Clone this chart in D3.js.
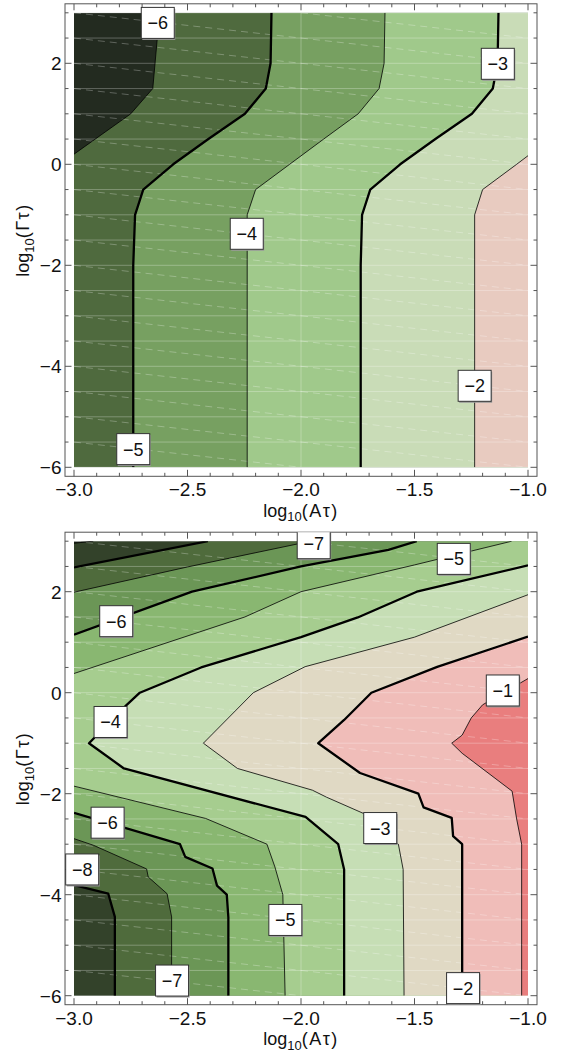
<!DOCTYPE html>
<html>
<head>
<meta charset="utf-8">
<script src="https://cdn.jsdelivr.net/npm/d3@7"></script>
<style>
  body { margin: 0; background: #fff; }
  svg { display: block; font-family: "Liberation Sans", Arial, sans-serif; }
</style>
</head>
<body>
<div id="chart"></div>
<script>
// Axis ranges and tick labels (shared by both panels)
const xDomain = [-3, -1];
const yDomain = [-6, 3];
const xMajorTicks = [-3.0, -2.5, -2.0, -1.5, -1.0];
const yMajorTicks = [-6, -4, -2, 0, 2];

// Upper panel: contour levels and traced contour lines [log10(Aτ), log10(Γτ)]
const upperLevels = [-6, -5, -4, -3, -2];
const upperM6 = [[[-2.633, 3], [-2.633, 2.5], [-2.643, 2], [-2.653, 1.5], [-2.75, 1], [-3, 0.2]]];
const upperM5 = [[[-2.13, 3], [-2.134, 2], [-2.155, 1.5], [-2.247, 1], [-2.408, 0.5], [-2.563, 0], [-2.695, -0.5], [-2.731, -1], [-2.739, -2], [-2.739, -6]]];
const upperM4 = [[[-1.63, 3], [-1.634, 2], [-1.656, 1.5], [-1.748, 1], [-1.9, 0.5], [-2.05, 0], [-2.2, -0.5], [-2.237, -1], [-2.237, -6]]];
const upperM3 = [[[-1.13, 3], [-1.134, 2], [-1.155, 1.5], [-1.247, 1], [-1.408, 0.5], [-1.563, 0], [-1.695, -0.5], [-1.731, -1], [-1.737, -2], [-1.737, -6]]];
const upperM2 = [[[-1, 0.17], [-1.05, 0], [-1.2, -0.5], [-1.235, -1], [-1.235, -6]]];
// contour label positions: [level, x, y]
const upperLabels = [[-6, -2.631, 2.8], [-5, -2.739, -5.64], [-4, -2.239, -1.376], [-3, -1.133, 1.99], [-2, -1.235, -4.386]];

// Lower panel
const lowerLevels = [-9, -8, -7, -6, -5, -4, -3, -2, -1];
const lowerM9 = [[[-2.915, 3], [-3, 2.96]]];
const lowerM8 = [
  [[-2.41, 3], [-3, 2.48]],
  [[-3, -3.81], [-2.849, -3.98], [-2.82, -4.44], [-2.82, -6]]
];
const lowerM7 = [
  [[-1.96, 3], [-2.0, 2.96], [-2.5, 2.49], [-3, 1.99]],
  [[-3, -2.89], [-2.915, -3.02], [-2.68, -3.49], [-2.673, -3.65], [-2.59, -3.98], [-2.57, -4.44], [-2.57, -6]]
];
const lowerM6 = [
  [[-1.49, 3], [-1.615, 2.83], [-2.0, 2.5], [-2.48, 2.0], [-3, 1.15]],
  [[-3, -2.38], [-2.533, -3.0], [-2.51, -3.25], [-2.39, -3.48], [-2.37, -3.82], [-2.327, -4.0], [-2.32, -4.45], [-2.32, -6]]
];
const lowerM5 = [
  [[-1.072, 3], [-1.5, 2.53], [-2.0, 2.0], [-2.247, 1.5], [-3, 0.38]],
  [[-3, -1.85], [-2.42, -2.49], [-2.15, -3.0], [-2.115, -3.45], [-2.08, -4.0], [-2.07, -6]]
];
const lowerM4 = [[[-1, 2.52], [-1.49, 2.0], [-1.75, 1.49], [-2.0, 1.1], [-2.44, 0.5], [-2.71, 0.0], [-2.77, -0.25],
  [-2.934, -1.0], [-2.78, -1.5], [-1.98, -2.46], [-1.836, -3.0], [-1.81, -3.5], [-1.81, -6]]];
const lowerM3 = [[[-1, 1.94], [-1.5, 1.1], [-1.982, 0.515], [-2.21, 0.0], [-2.43, -1.0], [-2.28, -1.5], [-1.95, -1.93],
  [-1.887, -2.07], [-1.72, -2.4], [-1.571, -3.0], [-1.55, -3.5], [-1.546, -6]]];
const lowerM2 = [[[-1, 1.11], [-1.4, 0.51], [-1.69, 0.0], [-1.81, -0.54], [-1.924, -1.0], [-1.74, -1.59], [-1.483, -2.0],
  [-1.46, -2.27], [-1.336, -2.48], [-1.33, -2.84], [-1.29, -3.0], [-1.29, -6]]];
const lowerM1 = [[[-1, 0.28], [-1.2, -0.24], [-1.25, -0.5], [-1.29, -0.84], [-1.336, -1.0], [-1.29, -1.2], [-1.07, -1.95],
  [-1.05, -2.5], [-1.028, -3.0], [-1.028, -6]]];
const lowerLabels = [[-7, -1.944, 2.96], [-5, -1.327, 2.65], [-6, -2.814, 1.416], [-4, -2.839, -0.58], [-1, -1.111, 0.044],
  [-6, -2.852, -2.574], [-3, -1.651, -2.68], [-8, -2.964, -3.5], [-5, -2.069, -4.5], [-7, -2.568, -5.7], [-2, -1.286, -5.85]];

// Styles: band colours from lowest to highest, and which levels get a heavy line
const upperColors = ["#232b20", "#4f6a3e", "#77a061", "#a0c98b", "#c9dcb7", "#e8cbc0"];
const lowerColors = ["#222a1f", "#33422a", "#4f6b3c", "#6b9656", "#89b771", "#a6cd8f", "#c6deb5", "#e0d9c4", "#f0bdb9", "#e97e7e"];
const upperThick = [-5, -3];
const lowerThick = [-8, -6, -4, -2];

const svg = d3.select("#chart").append("svg")
  .attr("width", 569)
  .attr("height", 1057);

const innerLeft = 74, innerRight = 528, innerH = 454.5, pad = 9;
const fmtX = d3.format(".1f");
const fmtY = d3.format("d");

function drawPanel(id, top, levels, contours, colors, thick, labels) {
  const x = d3.scaleLinear().domain(xDomain).range([innerLeft, innerRight]);
  const y = d3.scaleLinear().domain(yDomain).range([top + innerH, top]);
  const g = svg.append("g");
  const [x0, x1] = xDomain, [y0, y1] = yDomain;
  const Wd = x1 - x0, Hd = y1 - y0, P = 2 * (Wd + Hd);
  const eps = 1e-6;

  // position along the domain boundary, counter-clockwise from bottom-left
  function perim([px, py]) {
    if (Math.abs(py - y0) < eps) return px - x0;
    if (Math.abs(px - x1) < eps) return Wd + (py - y0);
    if (Math.abs(py - y1) < eps) return Wd + Hd + (x1 - px);
    return 2 * Wd + Hd + (y1 - py);
  }
  const corners = [[0, [x0, y0]], [Wd, [x1, y0]], [Wd + Hd, [x1, y1]], [2 * Wd + Hd, [x0, y1]]];
  function walk(from, to) {
    const tf = perim(from);
    let tt = perim(to);
    if (tt <= tf) tt += P;
    const out = [];
    [...corners, ...corners.map(([t, p]) => [t + P, p])].forEach(([t, p]) => {
      if (t > tf && t < tt) out.push(p);
    });
    return out;
  }
  // region where value exceeds the level
  function superlevel(pieces) {
    const pts = [];
    pieces.forEach((piece, i) => {
      pts.push(...piece);
      const next = pieces[(i + 1) % pieces.length];
      pts.push(...walk(piece[piece.length - 1], next[0]));
    });
    return pts;
  }

  const defs = g.append("defs");
  defs.append("clipPath").attr("id", id + "-inner").append("rect")
    .attr("x", innerLeft).attr("y", top).attr("width", innerRight - innerLeft).attr("height", innerH);
  defs.append("clipPath").attr("id", id + "-frame").append("rect")
    .attr("x", innerLeft - pad).attr("y", top - pad)
    .attr("width", innerRight - innerLeft + 2 * pad).attr("height", innerH + 2 * pad);

  const line = d3.line().x(d => x(d[0])).y(d => y(d[1]));
  const plot = g.append("g").attr("clip-path", `url(#${id}-inner)`);

  // base band, then each superlevel set on top
  plot.append("rect")
    .attr("x", innerLeft).attr("y", top)
    .attr("width", innerRight - innerLeft).attr("height", innerH)
    .attr("fill", colors[0]);
  levels.forEach((lv, i) => {
    plot.append("path")
      .attr("d", line(superlevel(contours[i])) + "Z")
      .attr("fill", colors[i + 1]);
  });

  // faint mesh seams from the original rendering
  const seamY = d3.range(0, 19).map(i => y0 + i * 0.5);
  plot.selectAll(".hseam").data(seamY).join("line")
    .attr("x1", innerLeft).attr("x2", innerRight)
    .attr("y1", d => y(d)).attr("y2", d => y(d))
    .attr("stroke", "#fff").attr("stroke-opacity", 0.28).attr("stroke-width", 1);
  plot.append("line")
    .attr("x1", x(-2)).attr("x2", x(-2)).attr("y1", top).attr("y2", top + innerH)
    .attr("stroke", "#fff").attr("stroke-opacity", 0.28).attr("stroke-width", 1);
  const cells = [];
  [-3, -2].forEach(cx => seamY.slice(0, -1).forEach(cy => cells.push([cx, cy])));
  plot.selectAll(".dseam").data(cells).join("line")
    .attr("x1", d => x(d[0])).attr("y1", d => y(d[1] + 0.5))
    .attr("x2", d => x(d[0] + 1)).attr("y2", d => y(d[1]))
    .attr("stroke", "#fff").attr("stroke-opacity", 0.3).attr("stroke-width", 0.9)
    .attr("stroke-dasharray", "7,5");

  // contour lines
  levels.forEach((lv, i) => {
    contours[i].forEach(piece => {
      plot.append("path")
        .attr("d", line(piece))
        .attr("fill", "none")
        .attr("stroke", "#000")
        .attr("stroke-width", thick.includes(lv) ? 2.3 : 0.8)
        .attr("stroke-linejoin", "round");
    });
  });

  // frame
  const fl = innerLeft - pad, fr = innerRight + pad, ft = top - pad, fb = top + innerH + pad;
  g.append("rect")
    .attr("x", fl).attr("y", ft).attr("width", fr - fl).attr("height", fb - ft)
    .attr("fill", "none").attr("stroke", "#555").attr("stroke-width", 1);

  // ticks on all four sides, pointing inward
  const xMinor = d3.range(0, 21).map(i => x0 + i * 0.1);
  const yMinor = d3.range(0, 19).map(i => y0 + i * 0.5);
  const isMajor = (v, arr) => arr.some(a => Math.abs(a - v) < 1e-6);
  const tk = g.append("g").attr("stroke", "#555").attr("stroke-width", 1);
  xMinor.forEach(v => {
    const len = isMajor(v, xMajorTicks) ? 6.5 : 3.5;
    tk.append("line").attr("x1", x(v)).attr("x2", x(v)).attr("y1", fb).attr("y2", fb - len);
    tk.append("line").attr("x1", x(v)).attr("x2", x(v)).attr("y1", ft).attr("y2", ft + len);
  });
  yMinor.forEach(v => {
    const len = isMajor(v, yMajorTicks) ? 6.5 : 3.5;
    tk.append("line").attr("y1", y(v)).attr("y2", y(v)).attr("x1", fl).attr("x2", fl + len);
    tk.append("line").attr("y1", y(v)).attr("y2", y(v)).attr("x1", fr).attr("x2", fr - len);
  });

  // tick labels
  g.selectAll(".xt").data(xMajorTicks).join("text")
    .attr("x", d => x(d)).attr("y", fb + 20)
    .attr("text-anchor", "middle").attr("font-size", 19).attr("fill", "#111")
    .text(d => fmtX(d));
  g.selectAll(".yt").data(yMajorTicks).join("text")
    .attr("x", fl - 3.5).attr("y", d => y(d)).attr("dy", "0.36em")
    .attr("text-anchor", "end").attr("font-size", 19).attr("fill", "#111")
    .text(d => fmtY(d));

  // axis titles
  const xt = g.append("text")
    .attr("x", (innerLeft + innerRight) / 2).attr("y", fb + 40.5)
    .attr("text-anchor", "middle").attr("font-size", 18).attr("fill", "#111");
  xt.append("tspan").text("log");
  xt.append("tspan").attr("font-size", 13).attr("dy", 4.5).text("10");
  xt.append("tspan").attr("dy", -4.5).attr("letter-spacing", 1.5).text("(Aτ)");

  const yt = g.append("text")
    .attr("transform", `translate(29,${top + innerH / 2}) rotate(-90)`)
    .attr("text-anchor", "middle").attr("font-size", 18).attr("fill", "#111");
  yt.append("tspan").text("log");
  yt.append("tspan").attr("font-size", 13).attr("dy", 4.5).text("10");
  yt.append("tspan").attr("dy", -4.5).attr("letter-spacing", 1.5).text("(Γτ)");

  // contour labels in boxes
  const lab = g.append("g").attr("clip-path", `url(#${id}-frame)`);
  const bw = 33, bh = 31;
  labels.forEach(([lv, lx, ly]) => {
    const cx = x(lx), cy = y(ly);
    lab.append("rect")
      .attr("x", cx - bw / 2 + 1).attr("y", cy - bh / 2 + 1.5)
      .attr("width", bw).attr("height", bh).attr("fill", "#9a9a9a");
    lab.append("rect")
      .attr("x", cx - bw / 2).attr("y", cy - bh / 2)
      .attr("width", bw).attr("height", bh)
      .attr("fill", "#fff").attr("stroke", "#333").attr("stroke-width", 1);
    lab.append("text")
      .attr("x", cx).attr("y", cy).attr("dy", "0.36em")
      .attr("text-anchor", "middle").attr("font-size", 18).attr("fill", "#111")
      .text(fmtY(lv));
  });
}

drawPanel("upper", 12.8, upperLevels, [upperM6, upperM5, upperM4, upperM3, upperM2],
  upperColors, upperThick, upperLabels);
drawPanel("lower", 541.2, lowerLevels, [lowerM9, lowerM8, lowerM7, lowerM6, lowerM5, lowerM4, lowerM3, lowerM2, lowerM1],
  lowerColors, lowerThick, lowerLabels);
</script>
</body>
</html>
